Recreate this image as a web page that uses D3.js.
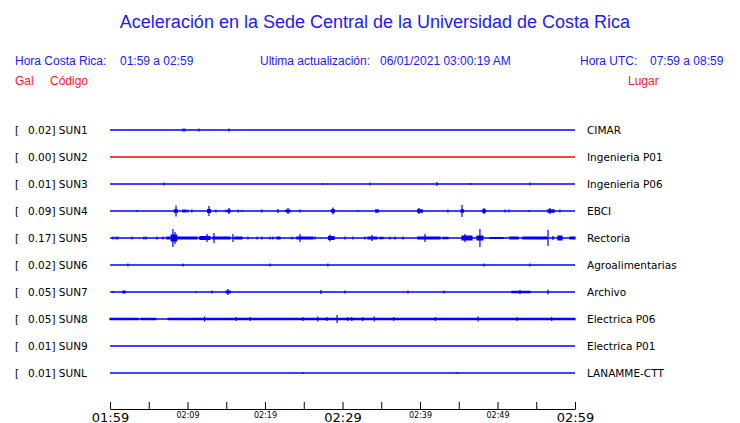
<!DOCTYPE html>
<html>
<head>
<meta charset="utf-8">
<script src="https://cdn.jsdelivr.net/npm/d3@7"></script>
<style>
  body { margin: 0; background: #fff; }
  text { font-family: "Liberation Sans", Arial, sans-serif; }
</style>
</head>
<body>
<svg id="my-svg"></svg>
<script>
// stations, top to bottom
let codes  = ['SUN1', 'SUN2', 'SUN3', 'SUN4', 'SUN5', 'SUN6', 'SUN7', 'SUN8', 'SUN9', 'SUNL'];
let peaks  = ['0.02', '0.00', '0.01', '0.09', '0.17', '0.02', '0.05', '0.05', '0.01', '0.01'];
let places = ['CIMAR', 'Ingenieria P01', 'Ingenieria P06', 'EBCI', 'Rectoria', 'Agroalimentarias',
              'Archivo', 'Electrica P06', 'Electrica P01', 'LANAMME-CTT'];
let traceColors = ['#0000ff', '#ff0000', '#0000ff', '#0000ff', '#0000ff', '#0000ff',
                   '#0000ff', '#0000ff', '#0000ff', '#0000ff'];

// envelope pieces: [start min, end min, amplitude gal], minutes after 01:59
let sun1 = [[9.42, 9.42, 0.03], [9.68, 9.68, 0.03], [11.48, 11.48, 0.03], [15.35, 15.35, 0.03]];
let sun2 = [];
let sun3 = [[6.97, 6.97, 0.03], [27.48, 27.48, 0.02], [33.55, 33.55, 0.03], [42.19, 42.19, 0.04],
            [46.58, 46.58, 0.02], [54.19, 54.19, 0.03]];
let sun4 = [[3.48, 3.48, 0.02], [8.3, 8.7, 0.035], [8.52, 8.52, 0.11], [9.4, 9.8, 0.03],
            [10.06, 10.06, 0.03], [10.58, 10.58, 0.03], [12.6, 12.95, 0.04], [12.77, 12.77, 0.1],
            [13.68, 13.68, 0.03], [14.97, 14.97, 0.03], [15.2, 15.5, 0.03], [15.35, 15.35, 0.06],
            [16.52, 16.52, 0.03], [17.03, 17.03, 0.02], [19.61, 19.61, 0.03], [21.68, 21.68, 0.04],
            [22.7, 23.2, 0.03], [22.97, 22.97, 0.06], [24.52, 24.52, 0.03], [28.6, 28.95, 0.035],
            [28.77, 28.77, 0.07], [32.0, 32.0, 0.02], [34.3, 34.6, 0.035], [39.7, 40.3, 0.035],
            [39.87, 39.87, 0.06], [43.61, 43.61, 0.03], [45.42, 45.42, 0.12], [45.3, 45.6, 0.035],
            [48.1, 48.45, 0.035], [48.26, 48.26, 0.06], [50.97, 50.97, 0.03], [51.48, 51.48, 0.03],
            [54.06, 54.06, 0.02], [56.5, 57.3, 0.035], [56.77, 56.77, 0.06], [58.06, 58.06, 0.03]];
let sun5 = [[0.39, 0.39, 0.03], [0.77, 0.77, 0.03], [1.03, 1.03, 0.03], [2.84, 2.84, 0.03],
            [4.39, 4.39, 0.03], [4.65, 4.65, 0.03], [6.06, 6.06, 0.03], [6.84, 6.84, 0.03],
            [7.35, 7.74, 0.03], [8.13, 8.13, 0.18], [8.39, 8.39, 0.12], [7.9, 8.6, 0.07],
            [8.65, 11.23, 0.03], [11.61, 12.9, 0.04], [12.52, 12.52, 0.08], [13.42, 13.42, 0.1],
            [13.29, 15.48, 0.03], [15.87, 15.87, 0.08], [16.13, 17.03, 0.03], [17.81, 17.81, 0.03],
            [18.97, 18.97, 0.03], [19.61, 19.61, 0.03], [20.65, 20.65, 0.03], [21.03, 21.03, 0.03],
            [21.55, 21.94, 0.03], [23.48, 23.48, 0.03], [24.13, 26.19, 0.03], [24.52, 24.52, 0.08],
            [26.45, 26.45, 0.03], [28.2, 28.9, 0.04], [28.39, 28.39, 0.07], [30.32, 30.32, 0.03],
            [31.35, 31.35, 0.03], [32.9, 32.9, 0.03], [33.29, 34.45, 0.03], [33.81, 33.81, 0.06],
            [34.84, 35.23, 0.025], [36.13, 36.13, 0.03], [36.77, 36.77, 0.03],
            [37.81, 37.81, 0.03], [39.74, 42.58, 0.03], [40.65, 40.65, 0.08], [42.97, 43.61, 0.025],
            [45.42, 46.71, 0.05], [45.81, 45.81, 0.08], [47.35, 48.13, 0.05], [47.74, 47.74, 0.18],
            [49.03, 50.71, 0.02], [51.61, 52.65, 0.03], [53.29, 56.39, 0.03], [56.52, 56.52, 0.16],
            [57.16, 57.16, 0.04], [57.81, 58.32, 0.05], [59.35, 60.0, 0.03]];
let sun6 = [[2.32, 2.32, 0.03], [9.42, 9.42, 0.03], [20.65, 20.65, 0.03], [28.13, 28.13, 0.03],
            [48.26, 48.26, 0.03], [54.19, 54.19, 0.03]];
let sun7 = [[0.39, 0.39, 0.02], [1.68, 1.94, 0.03], [11.1, 11.1, 0.02], [13.16, 13.16, 0.03],
            [15.23, 15.23, 0.06], [15.0, 15.5, 0.03], [27.23, 27.23, 0.04], [30.32, 30.32, 0.03],
            [38.45, 38.45, 0.03], [43.1, 43.1, 0.03], [51.87, 54.19, 0.025], [52.9, 52.9, 0.04],
            [56.52, 56.52, 0.05]];
let sun8 = [[0.0, 2.6, 0.025], [2.8, 3.6, 0.025], [4.0, 5.9, 0.025], [7.5, 60.0, 0.025],
            [12.2, 12.2, 0.05], [16.3, 16.3, 0.04], [18.1, 18.1, 0.04], [24.9, 24.9, 0.04],
            [26.8, 26.8, 0.05], [28.0, 28.0, 0.04], [29.3, 29.3, 0.08], [30.7, 30.7, 0.04],
            [31.2, 31.2, 0.04], [32.6, 32.6, 0.04], [34.1, 34.1, 0.05], [36.6, 36.6, 0.04],
            [42.0, 42.0, 0.04], [47.5, 47.5, 0.05], [52.5, 52.5, 0.04], [57.0, 57.0, 0.04]];
let sun9 = [];
let sunl = [[24.9, 24.9, 0.02], [44.8, 44.8, 0.02]];
let traces = [sun1, sun2, sun3, sun4, sun5, sun6, sun7, sun8, sun9, sunl];

let tickMinutes = [0, 5, 10, 15, 20, 25, 30, 35, 40, 45, 50, 55, 60];
let bigTicks = [0, 30, 60];

let W = 740, H = 423;
let svg = d3.select("#my-svg").attr('width', W).attr('height', H);

let t0 = new Date(2021, 5, 1, 1, 59);
let x = d3.scaleTime()
          .domain([t0, d3.timeMinute.offset(t0, 60)])
          .range([110, 575]);
let y = d3.scalePoint().domain(codes).range([130, 373]);
let amp = d3.scaleLinear().domain([0, 0.2]).range([0, 10]);
let blue = '#1a1aff';

// title and header
svg.append('text').attr('x', 375).attr('y', 28).attr('text-anchor', 'middle')
   .attr('font-size', 18).attr('fill', blue)
   .text('Aceleración en la Sede Central de la Universidad de Costa Rica');

let header = [
  [15, 'Hora Costa Rica:'], [120, '01:59 a 02:59'],
  [260, 'Ultima actualización:'], [380, '06/01/2021 03:00:19 AM'],
  [580, 'Hora UTC:'], [650, '07:59 a 08:59']
];
svg.selectAll('text.hdr').data(header).enter().append('text')
   .attr('class', 'hdr').attr('x', d => d[0]).attr('y', 65)
   .attr('font-size', 12).attr('fill', blue)
   .text(d => d[1]);

let redHeader = [[15, 'Gal'], [50, 'Código'], [628, 'Lugar']];
svg.selectAll('text.rhdr').data(redHeader).enter().append('text')
   .attr('class', 'rhdr').attr('x', d => d[0]).attr('y', 85)
   .attr('font-size', 12).attr('fill', '#ff1a1a')
   .text(d => d[1]);

// row labels
let rows = svg.selectAll('g.row').data(codes).enter().append('g')
              .attr('class', 'row')
              .attr('transform', d => `translate(0,${y(d)})`);

rows.append('text').attr('x', 15).attr('dy', '0.35em')
    .style('font-family', 'DejaVu Sans').attr('font-size', 10.5).text('[');
rows.append('text').attr('x', 28).attr('dy', '0.35em')
    .style('font-family', 'DejaVu Sans').attr('font-size', 10.5)
    .text((d, i) => peaks[i] + '] ' + d);
rows.append('text').attr('x', 587).attr('dy', '0.35em')
    .style('font-family', 'DejaVu Sans').attr('font-size', 10.5)
    .text((d, i) => places[i]);

// baseline of each trace
rows.append('line')
    .attr('x1', x.range()[0]).attr('x2', x.range()[1])
    .attr('stroke', (d, i) => traceColors[i]).attr('stroke-width', 1.3);

// envelope pieces
rows.each(function (d, i) {
  d3.select(this).selectAll('rect').data(traces[i]).enter().append('rect')
    .attr('x', e => x(d3.timeSecond.offset(t0, e[0] * 60)) - 0.6)
    .attr('width', e => Math.max(1.2, x(d3.timeSecond.offset(t0, e[1] * 60)) - x(d3.timeSecond.offset(t0, e[0] * 60)) + 1.2))
    .attr('y', e => -amp(e[2]))
    .attr('height', e => 2 * amp(e[2]))
    .attr('fill', traceColors[i]);
});

// time axis, ticks pointing up
let axis = d3.axisBottom(x)
             .tickValues(tickMinutes.map(m => d3.timeMinute.offset(t0, m)))
             .tickFormat(d3.timeFormat('%H:%M'))
             .tickSizeInner(-7).tickSizeOuter(0).tickPadding(3);

let gAxis = svg.append('g').attr('transform', 'translate(0,409)').call(axis);
gAxis.select('.domain').attr('stroke', '#000');
gAxis.selectAll('.tick line').attr('stroke', '#000');
gAxis.selectAll('.tick text')
     .style('font-family', 'DejaVu Sans')
     .attr('fill', '#000')
     .attr('dy', null)
     .attr('font-size', (d, i) => bigTicks.includes(tickMinutes[i]) ? 13 : 8)
     .attr('y', (d, i) => bigTicks.includes(tickMinutes[i]) ? 12.5 : 9)
     .style('display', (d, i) => tickMinutes[i] % 10 === 0 || bigTicks.includes(tickMinutes[i]) ? null : 'none');
</script>
</body>
</html>
